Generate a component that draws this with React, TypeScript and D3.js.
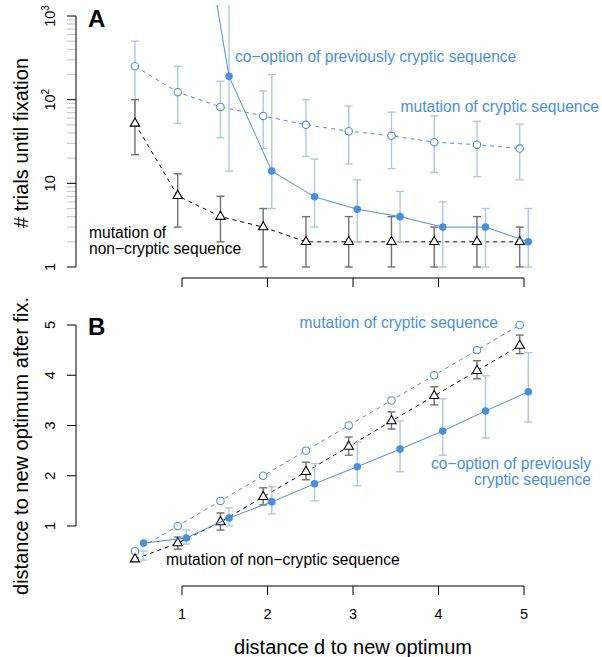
import React, { useEffect, useRef } from 'react';
import * as d3 from 'd3';

// distances d to the new optimum
const distances: number[] = [0.5, 1, 1.5, 2, 2.5, 3, 3.5, 4, 4.5, 5];

// panel A: # trials until fixation (median + interval)
const mutCrypticA: number[] = [251, 123, 82, 64, 50, 42, 37, 31, 29, 26];
const mutCrypticA_lo: number[] = [52, 52, 35, 26, 21, 17, 15, 13.5, 12, 11];
const mutCrypticA_hi: number[] = [500, 251, 166, 127, 100, 84, 71, 64, 55, 51];

const nonCrypticA: number[] = [52, 7.1, 4, 3, 2, 2, 2, 2, 2, 2];
const nonCrypticA_lo: number[] = [22, 3, 2, 1, 1, 1, 1, 1, 1, 1];
const nonCrypticA_hi: number[] = [100, 13, 7, 5, 4, 4, 4, 3, 4, 3];

const coOptionA: (number | null)[] = [null, 200000, 190, 14, 6.9, 4.9, 4, 3, 3, 2];
const coOptionA_lo: (number | null)[] = [null, null, 14, 5, 3, 2, 2, 1, 1, 1];
const coOptionA_hi: (number | null)[] = [null, null, 5000, 200, 19.5, 11, 8, 6, 5, 5];

// panel B: distance to new optimum after fixation
const mutCrypticB: number[] = [0.5, 1, 1.5, 2, 2.5, 3, 3.5, 4, 4.5, 5];

const nonCrypticB: number[] = [0.34, 0.66, 1.08, 1.58, 2.08, 2.58, 3.09, 3.59, 4.09, 4.59];
const nonCrypticB_lo: number[] = [0.34, 0.54, 0.92, 1.42, 1.92, 2.41, 2.93, 3.41, 3.93, 4.43];
const nonCrypticB_hi: number[] = [0.34, 0.78, 1.26, 1.76, 2.27, 2.77, 3.27, 3.77, 4.29, 4.8];

const coOptionB: number[] = [0.66, 0.76, 1.16, 1.48, 1.84, 2.18, 2.53, 2.89, 3.29, 3.67];
const coOptionB_lo: number[] = [0.32, 0.64, 1.0, 1.24, 1.5, 1.8, 2.08, 2.41, 2.75, 3.07];
const coOptionB_hi: number[] = [0.5, 0.92, 1.36, 1.78, 2.24, 2.67, 3.09, 3.53, 3.99, 4.45];

const xTicks: number[] = [1, 2, 3, 4, 5];
const yTicksA: number[] = [1, 10, 100, 1000];
const yTicksB: number[] = [1, 2, 3, 4, 5];

const BLUE = '#4a90d9';
const LIGHT = '#a9c9ea';
const GREY = '#707070';
const FONT = '"Liberation Sans", Arial, sans-serif';
const TICK_FS = 14.5;
const NOTE_FS = 15.6;

const x_scale = d3.scaleLinear().domain([1, 5]).range([182, 524]);
const yA = d3.scaleLog().domain([1, 1000]).range([267, 16]);
const yB = d3.scaleLinear().domain([1, 5]).range([526, 325]);

const drawSeries = (
  g: any,
  y: any,
  vals: (number | null)[],
  lo: (number | null)[] | null,
  hi: (number | null)[] | null,
  offset: number,
  lineColor: string,
  barColor: string,
  dash: string | null,
  symbol: string
) => {
  const pts = distances
    .map((d, i) => ({ d: d + offset, v: vals[i], lo: lo ? lo[i] : null, hi: hi ? hi[i] : null }))
    .filter(p => p.v !== null);

  // error bars
  const bars = pts.filter(p => p.lo !== null && p.hi !== null && p.lo !== p.hi);
  bars.forEach(p => {
    const x = x_scale(p.d);
    g.append('line').attr('x1', x).attr('x2', x).attr('y1', y(p.lo)).attr('y2', y(p.hi))
      .attr('stroke', barColor).attr('stroke-width', 1.4);
    [p.lo, p.hi].forEach(v => {
      g.append('line').attr('x1', x - 4).attr('x2', x + 4).attr('y1', y(v)).attr('y2', y(v))
        .attr('stroke', barColor).attr('stroke-width', 1.4);
    });
  });

  const line = d3.line<any>().x(p => x_scale(p.d)).y(p => y(p.v));
  const path = g.append('path').attr('d', line(pts)).attr('fill', 'none')
    .attr('stroke', lineColor).attr('stroke-width', 1);
  if (dash) path.attr('stroke-dasharray', dash);

  pts.forEach(p => {
    const cx = x_scale(p.d);
    const cy = y(p.v);
    if (symbol === 'open') {
      g.append('circle').attr('cx', cx).attr('cy', cy).attr('r', 3.7)
        .attr('fill', 'white').attr('stroke', BLUE).attr('stroke-width', 1.1);
    } else if (symbol === 'filled') {
      g.append('circle').attr('cx', cx).attr('cy', cy).attr('r', 3.8).attr('fill', BLUE);
    } else {
      g.append('path')
        .attr('d', d3.symbol().type(d3.symbolTriangle).size(38)())
        .attr('transform', `translate(${cx},${cy})`)
        .attr('fill', 'white').attr('stroke', 'black').attr('stroke-width', 1.1);
    }
  });
};

const drawYAxisLabel = (svg: any, x: number, y: number, txt: string, size: number) => {
  svg.append('text').attr('transform', `translate(${x},${y}) rotate(-90)`)
    .attr('text-anchor', 'middle').attr('font-size', size).attr('font-family', FONT).text(txt);
};

const App = () => {
  const ref = useRef<SVGSVGElement>(null);

  useEffect(() => {
    const svg = d3.select(ref.current);
    svg.selectAll('*').remove();

    svg.append('defs').append('clipPath').attr('id', 'clipA')
      .append('rect').attr('x', 77).attr('y', 5).attr('width', 523).attr('height', 273);

    // ---------- panel A ----------
    // minor ticks
    const minors: number[] = [];
    [1, 10, 100].forEach(k => { for (let m = 2; m <= 9; m++) minors.push(m * k); });
    svg.selectAll('.minorA').data(minors).join('line')
      .attr('x1', 67).attr('x2', 76).attr('y1', d => yA(d)).attr('y2', d => yA(d))
      .attr('stroke', '#cccccc').attr('stroke-width', 1.2);
    svg.append('line').attr('x1', 76).attr('x2', 76).attr('y1', yA(1000)).attr('y2', yA(1))
      .attr('stroke', 'black');
    svg.selectAll('.majorA').data(yTicksA).join('line')
      .attr('x1', 67).attr('x2', 76).attr('y1', d => yA(d)).attr('y2', d => yA(d))
      .attr('stroke', 'black');

    yTicksA.forEach(t => {
      const txt = svg.append('text').attr('transform', `translate(55,${yA(t)}) rotate(-90)`)
        .attr('text-anchor', 'middle').attr('font-size', TICK_FS).attr('font-family', FONT);
      if (t >= 100) {
        txt.append('tspan').text('10');
        txt.append('tspan').attr('dy', -6).attr('font-size', 10).text(String(Math.log10(t)));
      } else {
        txt.text(String(t));
      }
    });

    // x axis of A (no labels)
    svg.append('line').attr('x1', x_scale(1)).attr('x2', x_scale(5)).attr('y1', 278).attr('y2', 278)
      .attr('stroke', 'black');
    svg.selectAll('.xtA').data(xTicks).join('line')
      .attr('x1', d => x_scale(d)).attr('x2', d => x_scale(d)).attr('y1', 278).attr('y2', 287)
      .attr('stroke', 'black');

    const gA = svg.append('g').attr('clip-path', 'url(#clipA)');
    drawSeries(gA, yA, mutCrypticA, mutCrypticA_lo, mutCrypticA_hi, -0.05, BLUE, LIGHT, '4,4', 'open');
    drawSeries(gA, yA, nonCrypticA, nonCrypticA_lo, nonCrypticA_hi, -0.05, 'black', GREY, '4,4', 'tri');
    drawSeries(gA, yA, coOptionA, coOptionA_lo, coOptionA_hi, 0.05, BLUE, LIGHT, null, 'filled');

    svg.append('text').attr('x', 88).attr('y', 27).attr('font-size', 24).attr('font-weight', 'bold')
      .attr('font-family', FONT).text('A');
    drawYAxisLabel(svg, 28, 143, '# trials until fixation', 20);

    svg.append('text').attr('x', 235).attr('y', 62).attr('font-size', NOTE_FS).attr('font-family', FONT)
      .attr('fill', BLUE).text('co\u2212option of previously cryptic sequence');
    svg.append('text').attr('x', 599).attr('y', 112).attr('text-anchor', 'end').attr('font-size', NOTE_FS)
      .attr('font-family', FONT).attr('fill', BLUE).text('mutation of cryptic sequence');
    svg.append('text').attr('x', 89).attr('y', 238).attr('font-size', NOTE_FS).attr('font-family', FONT)
      .text('mutation of');
    svg.append('text').attr('x', 89).attr('y', 254).attr('font-size', NOTE_FS).attr('font-family', FONT)
      .text('non\u2212cryptic sequence');

    // ---------- panel B ----------
    svg.append('line').attr('x1', 76).attr('x2', 76).attr('y1', yB(5)).attr('y2', yB(1))
      .attr('stroke', 'black');
    svg.selectAll('.ytB').data(yTicksB).join('line')
      .attr('x1', 67).attr('x2', 76).attr('y1', d => yB(d)).attr('y2', d => yB(d))
      .attr('stroke', 'black');
    yTicksB.forEach(t => {
      svg.append('text').attr('transform', `translate(55,${yB(t)}) rotate(-90)`)
        .attr('text-anchor', 'middle').attr('font-size', TICK_FS).attr('font-family', FONT).text(String(t));
    });

    svg.append('line').attr('x1', x_scale(1)).attr('x2', x_scale(5)).attr('y1', 586).attr('y2', 586)
      .attr('stroke', 'black');
    svg.selectAll('.xtB').data(xTicks).join('line')
      .attr('x1', d => x_scale(d)).attr('x2', d => x_scale(d)).attr('y1', 586).attr('y2', 595)
      .attr('stroke', 'black');
    svg.selectAll('.xlB').data(xTicks).join('text')
      .attr('x', d => x_scale(d)).attr('y', 619).attr('text-anchor', 'middle')
      .attr('font-size', TICK_FS).attr('font-family', FONT).text(d => String(d));

    const gB = svg.append('g');
    drawSeries(gB, yB, mutCrypticB, null, null, -0.05, BLUE, LIGHT, '4,4', 'open');
    drawSeries(gB, yB, nonCrypticB, nonCrypticB_lo, nonCrypticB_hi, -0.05, 'black', GREY, '4,4', 'tri');
    drawSeries(gB, yB, coOptionB, coOptionB_lo, coOptionB_hi, 0.05, BLUE, LIGHT, null, 'filled');

    svg.append('text').attr('x', 88).attr('y', 335).attr('font-size', 24).attr('font-weight', 'bold')
      .attr('font-family', FONT).text('B');
    drawYAxisLabel(svg, 28, 446, 'distance to new optimum after fix.', 20);

    svg.append('text').attr('x', 498).attr('y', 328).attr('text-anchor', 'end').attr('font-size', NOTE_FS)
      .attr('font-family', FONT).attr('fill', BLUE).text('mutation of cryptic sequence');
    svg.append('text').attr('x', 591).attr('y', 469).attr('text-anchor', 'end').attr('font-size', NOTE_FS)
      .attr('font-family', FONT).attr('fill', BLUE).text('co\u2212option of previously');
    svg.append('text').attr('x', 591).attr('y', 485).attr('text-anchor', 'end').attr('font-size', NOTE_FS)
      .attr('font-family', FONT).attr('fill', BLUE).text('cryptic sequence');
    svg.append('text').attr('x', 166).attr('y', 565).attr('font-size', NOTE_FS).attr('font-family', FONT)
      .text('mutation of non\u2212cryptic sequence');

    svg.append('text').attr('x', 353).attr('y', 654).attr('text-anchor', 'middle').attr('font-size', 20)
      .attr('font-family', FONT).text('distance d to new optimum');
  }, []);

  return (
    <svg ref={ref} width={602} height={657}
      style={{ position: 'absolute', left: 0, top: 0, background: 'white' }} />
  );
};

export default App;
